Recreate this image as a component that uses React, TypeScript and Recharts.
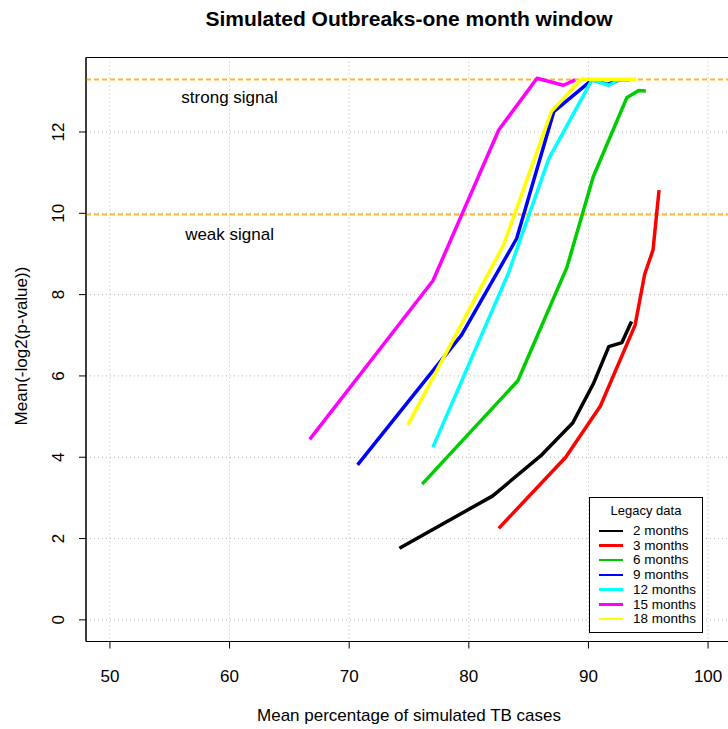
import React from 'react';
import {
  LineChart,
  Line,
  XAxis,
  YAxis,
  CartesianGrid,
  ReferenceLine,
  ReferenceDot,
  ReferenceArea,
  Legend,
} from 'recharts';

const TITLE = 'Simulated Outbreaks-one month window';
const X_LABEL = 'Mean percentage of simulated TB cases';
const Y_LABEL = 'Mean(-log2(p-value))';
const LEGEND_TITLE = 'Legacy data';

const X_TICKS = [50, 60, 70, 80, 90, 100];
const Y_TICKS = [0, 2, 4, 6, 8, 10, 12];

const STRONG_SIGNAL = 13.29;
const WEAK_SIGNAL = 9.97;

const seriesNames = ['2 months', '3 months', '6 months', '9 months', '12 months', '15 months', '18 months'];
const seriesColors = ['#000000', '#FF0000', '#00CD00', '#0000FF', '#00FFFF', '#FF00FF', '#FFFF00'];

const x2m = [74.2, 82.0, 86.1, 88.7, 90.4, 91.7, 92.8, 93.6];
const y2m = [1.76, 3.05, 4.06, 4.85, 5.8, 6.72, 6.82, 7.34];

const x3m = [82.5, 88.1, 91.0, 93.9, 94.7, 95.4, 95.9];
const y3m = [2.25, 4.0, 5.26, 7.25, 8.5, 9.1, 10.57];

const x6m = [76.1, 84.1, 88.2, 90.4, 93.2, 94.2, 94.8];
const y6m = [3.34, 5.88, 8.67, 10.9, 12.84, 13.02, 13.01];

const x9m = [70.7, 79.4, 84.0, 87.1, 90.3, 91.6, 92.6];
const y9m = [3.81, 7.01, 9.38, 12.5, 13.28, 13.17, 13.28];

const x12m = [77.0, 83.3, 86.7, 90.3, 91.7, 92.5, 93.5];
const y12m = [4.25, 8.52, 11.35, 13.28, 13.15, 13.28, 13.28];

const x15m = [66.7, 77.0, 82.5, 85.7, 87.9, 88.9];
const y15m = [4.44, 8.34, 12.05, 13.32, 13.15, 13.28];

const x18m = [74.9, 82.9, 86.9, 89.4, 94.0];
const y18m = [4.79, 9.22, 12.5, 13.3, 13.3];

const seriesX = [x2m, x3m, x6m, x9m, x12m, x15m, x18m];
const seriesY = [y2m, y3m, y6m, y9m, y12m, y15m, y18m];

const seriesData = seriesX.map((xs, i) => xs.map((x, j) => ({ x, y: seriesY[i][j] })));

const FONT = '"Liberation Sans", Arial, Helvetica, sans-serif';

const XTick = (props: any) => {
  const { x, y, payload } = props;
  return (
    <text x={x} y={y + 26} textAnchor="middle" dominantBaseline="central" fontSize={17} fontFamily={FONT} fill="#000">
      {payload.value}
    </text>
  );
};

const YTick = (props: any) => {
  const { x, y, payload } = props;
  const cx = x - 18;
  return (
    <text
      x={cx}
      y={y}
      textAnchor="middle"
      dominantBaseline="central"
      fontSize={17}
      fontFamily={FONT}
      fill="#000"
      transform={`rotate(-90, ${cx}, ${y})`}
    >
      {payload.value}
    </text>
  );
};

const LegendBox = () => (
  <div
    style={{
      border: '1.5px solid #000',
      background: '#fff',
      width: 114,
      height: 136,
      boxSizing: 'border-box',
      fontFamily: FONT,
      color: '#000',
      position: 'relative',
    }}
  >
    <div style={{ position: 'absolute', top: 5, left: 0, width: '100%', textAlign: 'center', fontSize: 13, lineHeight: '16px' }}>
      {LEGEND_TITLE}
    </div>
    {seriesNames.map((name, i) => (
      <div key={name} style={{ position: 'absolute', top: 25 + i * 14.7, left: 0, height: 15, width: '100%' }}>
        <div style={{ position: 'absolute', left: 9, top: 6.5, width: 24, height: 2.5, background: seriesColors[i] }} />
        <div style={{ position: 'absolute', left: 43, top: 0, fontSize: 13.5, lineHeight: '15px', whiteSpace: 'nowrap' }}>{name}</div>
      </div>
    ))}
  </div>
);

export default function App() {
  return (
    <div
      style={{
        position: 'absolute',
        left: 0,
        top: 0,
        width: 728,
        height: 729,
        overflow: 'hidden',
        background: '#fff',
        fontFamily: FONT,
      }}
    >
      <div
        style={{
          position: 'absolute',
          left: 0,
          top: 7,
          width: 818,
          textAlign: 'center',
          fontSize: 21,
          fontWeight: 'bold',
          lineHeight: '24px',
          whiteSpace: 'nowrap',
        }}
      >
        {TITLE}
      </div>
      <div
        style={{
          position: 'absolute',
          left: 0,
          top: 706,
          width: 818,
          textAlign: 'center',
          fontSize: 17,
          lineHeight: '20px',
          whiteSpace: 'nowrap',
        }}
      >
        {X_LABEL}
      </div>
      <div
        style={{
          position: 'absolute',
          left: 22,
          top: 346,
          width: 0,
          height: 0,
        }}
      >
        <div
          style={{
            position: 'absolute',
            left: -150,
            top: -10,
            width: 300,
            textAlign: 'center',
            fontSize: 17,
            lineHeight: '20px',
            transform: 'rotate(-90deg)',
            whiteSpace: 'nowrap',
          }}
        >
          {Y_LABEL}
        </div>
      </div>
      <LineChart width={740} height={729} margin={{ top: 57.5, right: 8, bottom: 47.5, left: 36 }}>
        <CartesianGrid stroke="#b5b5b5" strokeDasharray="1 3" strokeWidth={1} />
        <XAxis
          type="number"
          dataKey="x"
          domain={[48, 102]}
          ticks={X_TICKS}
          interval={0}
          allowDataOverflow
          height={40}
          tickSize={7}
          axisLine={{ stroke: '#000' }}
          tickLine={{ stroke: '#000' }}
          tick={<XTick />}
        />
        <YAxis
          type="number"
          domain={[-0.532, 13.832]}
          ticks={Y_TICKS}
          interval={0}
          allowDataOverflow
          width={50}
          tickSize={7}
          axisLine={{ stroke: '#000' }}
          tickLine={{ stroke: '#000' }}
          tick={<YTick />}
        />
        <ReferenceArea x1={48} x2={102} y1={-0.532} y2={13.832} fill="none" fillOpacity={0} stroke="#000" strokeWidth={1} ifOverflow="visible" />
        <ReferenceLine y={STRONG_SIGNAL} stroke="#FDB53A" strokeWidth={2} strokeDasharray="5 3" />
        <ReferenceLine y={WEAK_SIGNAL} stroke="#FDB53A" strokeWidth={2} strokeDasharray="5 3" />
        {seriesData.map((d, i) => (
          <Line
            key={seriesNames[i]}
            data={d}
            dataKey="y"
            name={seriesNames[i]}
            type="linear"
            stroke={seriesColors[i]}
            strokeWidth={3.5}
            dot={false}
            activeDot={false}
            isAnimationActive={false}
            strokeLinejoin="round"
          />
        ))}
        <ReferenceDot
          x={60}
          y={12.86}
          r={0}
          fill="none"
          stroke="none"
          label={{ value: 'strong signal', position: 'center', fontSize: 17, fill: '#000', fontFamily: FONT }}
        />
        <ReferenceDot
          x={60}
          y={9.49}
          r={0}
          fill="none"
          stroke="none"
          label={{ value: 'weak signal', position: 'center', fontSize: 17, fill: '#000', fontFamily: FONT }}
        />
        <Legend
          layout="vertical"
          align="center"
          verticalAlign="middle"
          wrapperStyle={{ position: 'absolute', left: 589, top: 497, width: 114, height: 136 }}
          content={() => <LegendBox />}
        />
      </LineChart>
    </div>
  );
}
